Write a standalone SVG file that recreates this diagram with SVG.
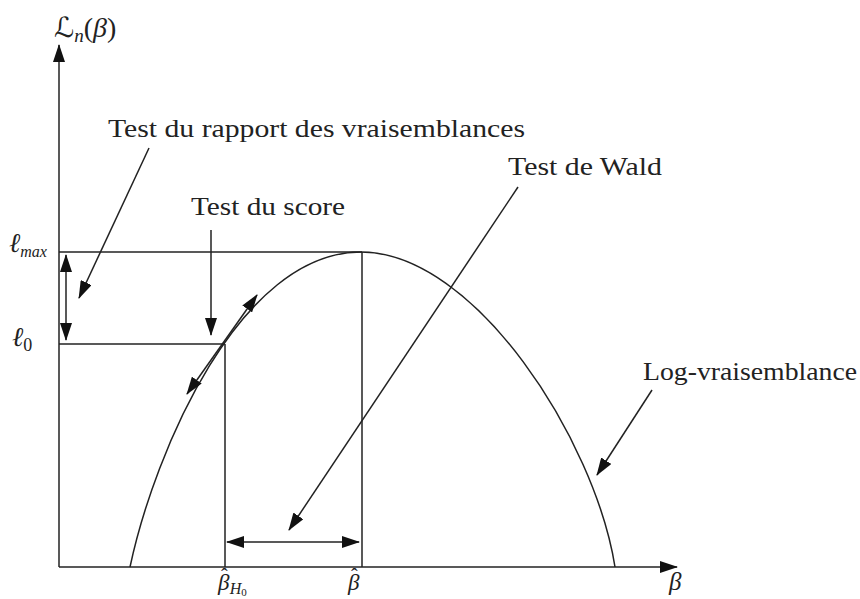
<svg xmlns="http://www.w3.org/2000/svg" width="860" height="599" viewBox="0 0 860 599">
<style>
.ln{stroke:#222;stroke-width:1.5;fill:none}
.ar{stroke:#222;stroke-width:1.5;fill:none;marker-end:url(#ah)}
.dar{stroke:#222;stroke-width:1.5;fill:none;marker-end:url(#ah);marker-start:url(#ahs)}
.t{font-family:"Liberation Serif","DejaVu Serif",serif;font-size:25px;fill:#222}
.m{font-family:"Liberation Serif","DejaVu Serif",serif;font-style:italic;fill:#222}
.hat{font-style:normal;font-size:20px}
</style>
<defs>
<marker id="ah" markerUnits="userSpaceOnUse" markerWidth="18" markerHeight="12" refX="17" refY="6" orient="auto"><path d="M0,0 L18,6 L0,12 z" fill="#111"/></marker>
<marker id="ahs" markerUnits="userSpaceOnUse" markerWidth="18" markerHeight="12" refX="17" refY="6" orient="auto-start-reverse"><path d="M0,0 L18,6 L0,12 z" fill="#111"/></marker>
</defs>
<g id="axes">
<line class="ar" x1="59" y1="567" x2="59" y2="45"/>
<line class="ar" x1="59" y1="567" x2="677" y2="567"/>
<text id="ylabel" class="m" x="54" y="37" font-size="28"><tspan font-family="DejaVu Serif,DejaVu Sans,serif" font-style="normal">ℒ</tspan><tspan font-size="19" dy="5">n</tspan><tspan font-style="normal" dy="-5">(</tspan>β<tspan font-style="normal">)</tspan></text>
<text id="xlabel" class="m" x="669" y="590" font-size="25">β</text>
</g>
<g id="guides">
<line class="ln" x1="59" y1="252" x2="362" y2="252"/>
<line class="ln" x1="59" y1="344" x2="225" y2="344"/>
<line class="ln" x1="225" y1="344" x2="225" y2="567"/>
<line class="ln" x1="362" y1="252" x2="362" y2="567"/>
<text id="lmax" class="m" x="9" y="252" font-size="27">ℓ<tspan font-size="16" dy="5">max</tspan></text>
<text id="l0" class="m" x="12" y="346" font-size="27">ℓ<tspan font-size="18" font-style="normal" dy="5">0</tspan></text>
<text id="bH0" class="m" x="218" y="590" font-size="23">β<tspan class="hat" dx="-8.5" dy="-7">ˆ</tspan><tspan font-size="16" dx="2" dy="11">H</tspan><tspan font-size="11" font-style="normal" dy="2">0</tspan></text>
<text id="bhat" class="m" x="348" y="590" font-size="23">β<tspan class="hat" dx="-8.5" dy="-7">ˆ</tspan></text>
</g>
<g id="curve">
<path class="ln" d="M130,567 C155,450 240,252 361,252 C475,252 595,440 615,567"/>
</g>
<g id="connectors">
<line class="ar" x1="149" y1="148" x2="79" y2="298"/>
<line class="ar" x1="211" y1="230" x2="211" y2="335"/>
<line class="dar" x1="187" y1="394" x2="257" y2="295"/>
<line class="dar" x1="66" y1="340" x2="66" y2="255"/>
<line class="ar" x1="518" y1="187" x2="289" y2="530"/>
<line class="dar" x1="227" y1="542" x2="359" y2="542"/>
<line class="ar" x1="652" y1="390" x2="597" y2="475"/>
</g>
<g id="label-lrt"><text class="t" x="108" y="137" textLength="417" lengthAdjust="spacingAndGlyphs">Test du rapport des vraisemblances</text></g>
<g id="label-score"><text class="t" x="191" y="215" textLength="154" lengthAdjust="spacingAndGlyphs">Test du score</text></g>
<g id="label-wald"><text class="t" x="508" y="175" textLength="154" lengthAdjust="spacingAndGlyphs">Test de Wald</text></g>
<g id="label-log"><text class="t" x="643" y="380" textLength="214" lengthAdjust="spacingAndGlyphs">Log-vraisemblance</text></g>
</svg>
